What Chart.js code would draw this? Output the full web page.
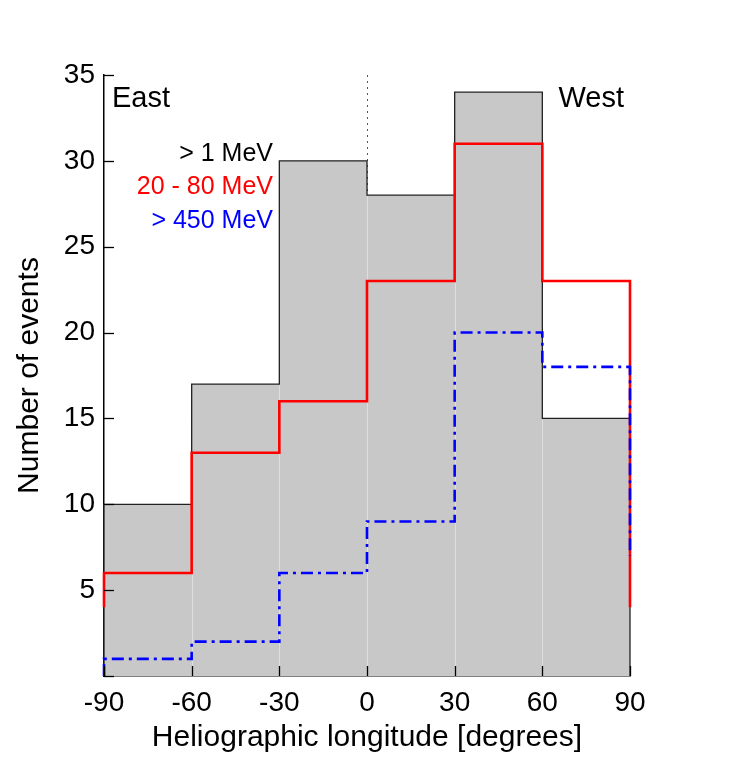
<!DOCTYPE html>
<html>
<head>
<meta charset="utf-8">
<script src="https://cdn.jsdelivr.net/npm/chart.js@4.4.1/dist/chart.umd.min.js"></script>
<style>
  body { margin: 0; background: #fff; }
  #wrap { width: 730px; height: 771px; }
</style>
</head>
<body>
<div id="wrap"><canvas id="histChart" width="730" height="771"></canvas></div>
<script>
// bin edges in heliographic longitude (degrees)
const binEdges = [-90, -60, -30, 0, 30, 60, 90];
const xTicks = [-90, -60, -30, 0, 30, 60, 90];

// counts per 30-degree bin
const countsAll = [10, 17, 30, 28, 34, 15];   // > 1 MeV
const counts2080 = [6, 13, 16, 23, 31, 23];   // 20 - 80 MeV
const counts450 = [1, 2, 6, 9, 20, 18];       // > 450 MeV

// where each step curve starts / ends on the outer edges
const redEnds = [4, 4];
const blueEnds = [0, 7];

const legendLabels = ["> 1 MeV", "20 - 80 MeV", "> 450 MeV"];
const legendColors = ["#000000", "#ff0000", "#0000ff"];

const FONT = "'Liberation Sans', Arial, Helvetica, sans-serif";

function stepPoints(vals, startY, endY) {
  const pts = [{ x: binEdges[0], y: startY }];
  vals.forEach((v, i) => {
    pts.push({ x: binEdges[i], y: v });
    pts.push({ x: binEdges[i + 1], y: v });
  });
  pts.push({ x: binEdges[binEdges.length - 1], y: endY });
  return pts;
}

// dotted line at 0 deg, behind the histogram
const zeroLine = {
  id: "zeroLine",
  beforeDatasetsDraw(chart) {
    const { ctx, chartArea, scales } = chart;
    const x = Math.round(scales.x.getPixelForValue(0)) + 0.5;
    ctx.save();
    ctx.strokeStyle = "#555";
    ctx.lineWidth = 1;
    ctx.setLineDash([2, 4]);
    ctx.beginPath();
    ctx.moveTo(x, chartArea.top);
    ctx.lineTo(x, chartArea.bottom);
    ctx.stroke();
    ctx.restore();
  }
};

// faint separators between grey bins
const binSeparators = {
  id: "binSeparators",
  afterDatasetDraw(chart, args) {
    if (args.index !== 0) return;
    const { ctx, scales } = chart;
    ctx.save();
    ctx.strokeStyle = "#dedede";
    ctx.lineWidth = 1;
    for (let i = 1; i < binEdges.length - 1; i++) {
      const h = Math.min(countsAll[i - 1], countsAll[i]);
      const x = Math.round(scales.x.getPixelForValue(binEdges[i])) + 0.5;
      ctx.beginPath();
      ctx.moveTo(x, scales.y.getPixelForValue(0) - 1);
      ctx.lineTo(x, scales.y.getPixelForValue(h) + 1);
      ctx.stroke();
    }
    ctx.restore();
  }
};

// inward tick marks + labels inside the plot
const extras = {
  id: "extras",
  afterDraw(chart) {
    const { ctx, chartArea, scales } = chart;
    ctx.save();
    ctx.strokeStyle = "#000";
    ctx.lineWidth = 1.3;
    scales.y.ticks.forEach(t => {
      const y = Math.round(scales.y.getPixelForValue(t.value)) + 0.5;
      ctx.beginPath();
      ctx.moveTo(chartArea.left, y);
      ctx.lineTo(chartArea.left + 10, y);
      ctx.stroke();
    });
    xTicks.forEach(v => {
      const x = Math.round(scales.x.getPixelForValue(v)) + 0.5;
      ctx.beginPath();
      ctx.moveTo(x, chartArea.bottom);
      ctx.lineTo(x, chartArea.bottom - 10);
      ctx.stroke();
    });

    ctx.textBaseline = "middle";
    ctx.fillStyle = "#000";
    ctx.font = "29px " + FONT;
    ctx.textAlign = "left";
    ctx.fillText("East", chartArea.left + 8, 99);
    ctx.textAlign = "right";
    ctx.fillText("West", chartArea.right - 6, 99);

    ctx.font = "25px " + FONT;
    legendLabels.forEach((txt, i) => {
      ctx.fillStyle = legendColors[i];
      ctx.fillText(txt, chartArea.left + 169, 154 + i * 33.5);
    });
    ctx.restore();
  }
};

new Chart(document.getElementById("histChart"), {
  type: "line",
  data: {
    datasets: [
      {
        label: "> 1 MeV",
        data: stepPoints(countsAll, 0, 0),
        borderColor: "#222",
        borderWidth: 1.3,
        backgroundColor: "#c8c8c8",
        fill: "origin",
        pointRadius: 0,
        tension: 0,
        clip: false,
        order: 3
      },
      {
        label: "20 - 80 MeV",
        data: stepPoints(counts2080, redEnds[0], redEnds[1]),
        borderColor: "#ff0000",
        borderWidth: 2.6,
        fill: false,
        pointRadius: 0,
        tension: 0,
        clip: false,
        order: 2
      },
      {
        label: "> 450 MeV",
        data: stepPoints(counts450, blueEnds[0], blueEnds[1]),
        borderColor: "#0000ff",
        borderWidth: 2.6,
        borderDash: [12, 5, 3, 5],
        fill: false,
        pointRadius: 0,
        tension: 0,
        clip: false,
        order: 1
      }
    ]
  },
  options: {
    responsive: false,
    animation: false,
    layout: { padding: { top: 75, right: 100, left: 0, bottom: 0 } },
    plugins: {
      legend: { display: false },
      tooltip: { enabled: false }
    },
    scales: {
      x: {
        type: "linear",
        min: -90,
        max: 90,
        afterBuildTicks: axis => { axis.ticks = xTicks.map(v => ({ value: v })); },
        afterFit: axis => { axis.height = 95; },
        grid: { display: false },
        border: { display: true, color: "#000", width: 1.5 },
        ticks: {
          color: "#000",
          padding: 2,
          maxRotation: 0,
          font: { family: FONT, size: 28 }
        },
        title: {
          display: true,
          text: "Heliographic longitude [degrees]",
          color: "#000",
          font: { family: FONT, size: 30 },
          padding: { top: 0, bottom: 15 }
        }
      },
      y: {
        min: 0,
        max: 35,
        afterFit: axis => { axis.width = 104; },
        grid: { display: false },
        border: { display: true, color: "#000", width: 1.5 },
        ticks: {
          stepSize: 5,
          color: "#000",
          padding: 1,
          font: { family: FONT, size: 28 },
          callback: v => (v === 0 ? "" : v)
        },
        title: {
          display: true,
          text: "Number of events",
          color: "#000",
          font: { family: FONT, size: 30 },
          padding: { top: 12, bottom: 0 }
        }
      }
    }
  },
  plugins: [zeroLine, binSeparators, extras]
});
</script>
</body>
</html>
